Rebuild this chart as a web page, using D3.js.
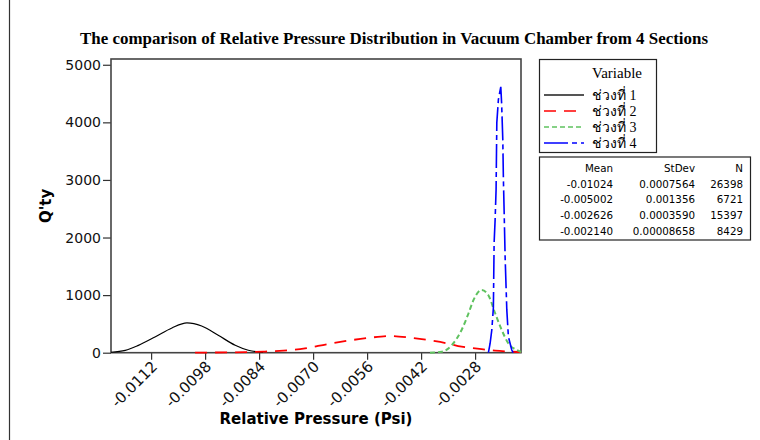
<!DOCTYPE html>
<html>
<head>
<meta charset="utf-8">
<script src="https://cdn.jsdelivr.net/npm/d3@7"></script>
<style>
  body { margin: 0; background: #fff; }
  svg { display: block; }
</style>
</head>
<body>
<div id="container"></div>
<script>
/* Données : pression relative (Psi) et quantité */
const pressure1 = [-0.01224, -0.01187, -0.01153, -0.01110, -0.01066, -0.01027, -0.00989, -0.00946, -0.00902, -0.00868, -0.00842, -0.00830];
const qty1      = [8, 40, 128, 273, 430, 517, 464, 303, 129, 42, 12, 5];

const pressure2 = [-0.01006, -0.00915, -0.00829, -0.00777, -0.00721, -0.00665, -0.00609, -0.00552, -0.00500, -0.00449, -0.00392, -0.00353, -0.00315, -0.00280, -0.00228, -0.00185, -0.00161];
const qty2      = [2, 6, 18, 35, 76, 146, 209, 261, 290, 261, 209, 163, 104, 76, 35, 17, 10];

const pressure3 = [-0.00397, -0.00366, -0.00340, -0.00315, -0.00297, -0.00284, -0.00263, -0.00246, -0.00228, -0.00211, -0.00194, -0.00172, -0.00161];
const qty3      = [0, 17, 134, 395, 685, 917, 1090, 1003, 685, 395, 163, 47, 12];

const pressure4 = [-0.002455, -0.002411, -0.002367, -0.002326, -0.002307, -0.002281, -0.002256, -0.002237, -0.002196, -0.002134, -0.002113, -0.002082, -0.002066, -0.002048, -0.002022, -0.001978, -0.001937, -0.001849, -0.001815];
const qty4      = [0, 160, 395, 780, 1907, 2307, 2830, 3996, 4396, 4616, 4343, 3700, 3004, 2482, 1670, 743, 278, 47, 0];

/* Noms des séries */
const seriesNames = ["ช่วงที่ 1", "ช่วงที่ 2", "ช่วงที่ 3", "ช่วงที่ 4"];

/* Tableau des statistiques */
const statHeaders = ["Mean", "StDev", "N"];
const means  = ["-0.01024", "-0.005002", "-0.002626", "-0.002140"];
const stdevs = ["0.0007564", "0.001356", "0.0003590", "0.00008658"];
const counts = ["26398", "6721", "15397", "8429"];

/* Graduations */
const xTicks = [-0.0112, -0.0098, -0.0084, -0.0070, -0.0056, -0.0042, -0.0028];
const xTickLabels = ["-0.0112", "-0.0098", "-0.0084", "-0.0070", "-0.0056", "-0.0042", "-0.0028"];
const yTicks = [0, 1000, 2000, 3000, 4000, 5000];

/* Styles des séries */
const seriesColor = ["#000000", "#ff0000", "#5fc25f", "#0000ff"];
const seriesDash = [null, "12,8", "5,3", "24,4,5,4"];
const seriesWidth = [1.2, 1.8, 2, 1.6];
const seriesCurve = [d3.curveMonotoneX, d3.curveMonotoneX, d3.curveMonotoneX, d3.curveLinear];

fontPolice = "'DejaVu Sans', Verdana, sans-serif";
fontSerif = "'Liberation Serif', 'Times New Roman', serif";

const W = 760, H = 440;
const plotLeft = 111, plotRight = 521, plotTop = 59, plotBottom = 352.7;

const svg = d3.select("#container").append("svg")
	.attr("width", W)
	.attr("height", H);

/* Bordure gauche de la page */
svg.append("line")
	.attr("x1", 9.5).attr("x2", 9.5)
	.attr("y1", 0).attr("y2", H)
	.style("stroke", "#333")
	.style("stroke-width", 1.2);

/* Echelles */
const x = d3.scaleLinear()
	.domain([-0.01224, -0.00161])
	.range([plotLeft, plotRight]);

const y = d3.scaleLinear()
	.domain([0, 5100])
	.range([plotBottom, plotTop]);

/* Titre */
svg.append("text")
	.attr("x", 394)
	.attr("y", 44)
	.attr("textLength", 628)
	.attr("lengthAdjust", "spacingAndGlyphs")
	.style("font-family", fontSerif)
	.style("font-weight", "bold")
	.style("font-size", "16.5px")
	.style("text-anchor", "middle")
	.text("The comparison of Relative Pressure Distribution in Vacuum Chamber from 4 Sections");

/* Axes */
const xAxis = svg.append("g")
	.attr("transform", "translate(0," + plotBottom + ")")
	.call(d3.axisBottom(x).tickValues(xTicks).tickSize(7)
		.tickFormat(function(d, i) { return xTickLabels[i]; }));

xAxis.selectAll("text")
	.attr("x", 0)
	.attr("y", 0)
	.attr("dy", "0.35em")
	.attr("transform", "translate(3,11) rotate(-45)")
	.style("text-anchor", "end")
	.style("font-size", "15px")
	.style("font-family", fontPolice)
	.style("fill", "#111");

const yAxis = svg.append("g")
	.attr("transform", "translate(" + plotLeft + ",0)")
	.call(d3.axisLeft(y).tickValues(yTicks).tickSize(8).tickPadding(2).tickFormat(d3.format("d")));

yAxis.selectAll("text")
	.style("font-size", "14px")
	.style("font-family", fontPolice)
	.style("fill", "#111");

svg.selectAll(".domain").remove();
svg.selectAll(".tick line").style("stroke", "#333").style("stroke-width", 1.2);

/* Cadre du graphe */
svg.append("rect")
	.attr("x", plotLeft)
	.attr("y", plotTop)
	.attr("width", plotRight - plotLeft)
	.attr("height", plotBottom - plotTop)
	.style("fill", "none")
	.style("stroke", "#444")
	.style("stroke-width", 1.6);

/* Titres des axes */
svg.append("text")
	.attr("x", (plotLeft + plotRight) / 2)
	.attr("y", 424)
	.style("font-family", fontPolice)
	.style("font-weight", "bold")
	.style("font-size", "15px")
	.style("text-anchor", "middle")
	.text("Relative Pressure (Psi)");

svg.append("text")
	.attr("transform", "translate(51," + (plotTop + plotBottom) / 2 + ") rotate(-90)")
	.style("font-family", fontPolice)
	.style("font-weight", "bold")
	.style("font-size", "15px")
	.style("text-anchor", "middle")
	.text("Q'ty");

/* Courbes */
const allPressure = [pressure1, pressure2, pressure3, pressure4];
const allQty = [qty1, qty2, qty3, qty4];

const curves = svg.append("g");
allPressure.forEach(function(p, i) {
	const pts = p.map(function(v, j) { return [v, allQty[i][j]]; });
	curves.append("path")
		.datum(pts)
		.attr("d", d3.line()
			.x(function(d) { return x(d[0]); })
			.y(function(d) { return y(d[1]); })
			.curve(seriesCurve[i]))
		.style("fill", "none")
		.style("stroke", seriesColor[i])
		.style("stroke-width", seriesWidth[i])
		.style("stroke-dasharray", seriesDash[i]);
});

/* Légende des séries */
const legend = svg.append("g");
legend.append("rect")
	.attr("x", 539.5).attr("y", 59.5)
	.attr("width", 117).attr("height", 93)
	.style("fill", "none").style("stroke", "#222").style("stroke-width", 1.2);

legend.append("text")
	.attr("x", 617).attr("y", 78)
	.style("font-family", fontSerif)
	.style("font-size", "15px")
	.style("text-anchor", "middle")
	.text("Variable");

const legendRowY = d3.scaleLinear().domain([0, 3]).range([95, 143]);

legend.selectAll("line")
	.data(seriesNames)
	.enter().append("line")
		.attr("x1", 544).attr("x2", 584)
		.attr("y1", function(d, i) { return legendRowY(i); })
		.attr("y2", function(d, i) { return legendRowY(i); })
		.style("stroke", function(d, i) { return i == 0 ? "#555" : seriesColor[i]; })
		.style("stroke-width", function(d, i) { return i == 0 ? 2 : 1.5; })
		.style("stroke-dasharray", function(d, i) { return seriesDash[i]; });

legend.selectAll("text.name")
	.data(seriesNames)
	.enter().append("text")
		.attr("class", "name")
		.attr("x", 592)
		.attr("y", function(d, i) { return legendRowY(i) + 5; })
		.style("font-family", fontSerif)
		.style("font-size", "14px")
		.text(function(d) { return d; });

/* Tableau des statistiques */
const stats = svg.append("g");
stats.append("rect")
	.attr("x", 539.5).attr("y", 157)
	.attr("width", 211).attr("height", 83)
	.style("fill", "none").style("stroke", "#222").style("stroke-width", 1.2);

const colRight = [613, 695, 743];
const rowY = d3.scaleLinear().domain([0, 4]).range([172, 234.5]);
const statCols = [means, stdevs, counts];

statHeaders.forEach(function(h, c) {
	stats.append("text")
		.attr("x", colRight[c]).attr("y", rowY(0))
		.style("font-family", fontPolice)
		.style("font-size", "10.3px")
		.style("text-anchor", "end")
		.text(h);
	statCols[c].forEach(function(v, r) {
		stats.append("text")
			.attr("x", colRight[c]).attr("y", rowY(r + 1))
			.style("font-family", fontPolice)
			.style("font-size", "10.3px")
			.style("text-anchor", "end")
			.text(v);
	});
});
</script>
</body>
</html>
